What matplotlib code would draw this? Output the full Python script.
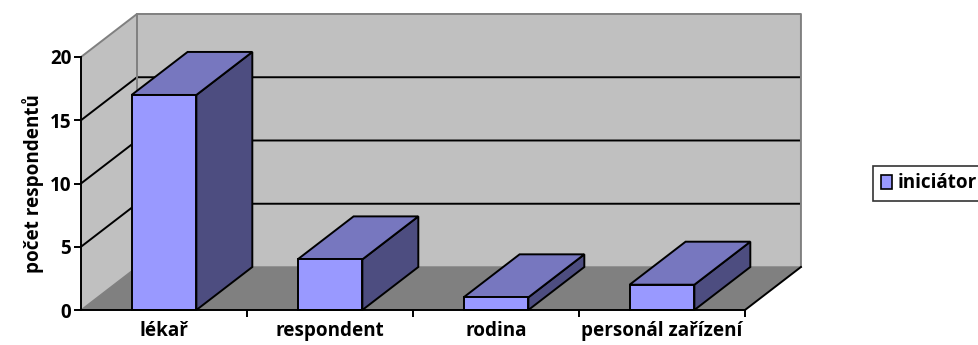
import matplotlib.pyplot as plt
from matplotlib.patches import Polygon, Rectangle, Patch

categories = ["lékař", "respondent", "rodina", "personál zařízení"]
counts = [17, 4, 1, 2]
y_ticks = [0, 5, 10, 15, 20]
series_name = "iniciátor"
y_title = "počet respondentů"

# fake 3D depth (in data units) and bar width
DX, DY = 0.337, 3.4
BAR_W = 0.39
YMAX = 20
N = len(categories)

FRONT = "#9999FF"
TOP = "#7777BF"
SIDE = "#4D4D80"
WALL = "#C0C0C0"
FLOOR = "#808080"
EDGE = "#808080"
FS = 13.6

plt.rcParams['font.family'] = ['Open Sans', 'DejaVu Sans']
plt.rcParams['font.weight'] = 'bold'

fig = plt.figure(figsize=(9.79, 3.45), dpi=100)
ax = fig.add_axes([81 / 979, 35 / 345, 664 / 979, 253 / 345])
ax.set_xlim(0, N)
ax.set_ylim(0, YMAX)
ax.patch.set_visible(False)


def poly(pts, fc, ec="none", lw=0, z=1):
    ax.add_patch(Polygon(pts, closed=True, facecolor=fc, edgecolor=ec,
                         linewidth=lw, zorder=z, clip_on=False))


# walls and floor
poly([(DX, DY), (N + DX, DY), (N + DX, YMAX + DY), (DX, YMAX + DY)], WALL, z=0.5)
poly([(0, 0), (DX, DY), (DX, YMAX + DY), (0, YMAX)], WALL, z=0.5)
poly([(0, 0), (N, 0), (N + DX, DY), (DX, DY)], FLOOR, z=0.6)

# gridlines on back and side wall
for t in y_ticks[1:-1]:
    ax.plot([0, DX, N + DX], [t, t + DY, t + DY], color="black", lw=1.4,
            zorder=0.8, clip_on=False, solid_capstyle="butt")

# wall outline
ax.plot([0, DX, N + DX, N + DX], [YMAX, YMAX + DY, YMAX + DY, DY],
        color=EDGE, lw=1.4, zorder=0.9, clip_on=False)
ax.plot([DX, DX], [DY, YMAX + DY], color=EDGE, lw=1.4, zorder=0.9, clip_on=False)
ax.plot([0, DX, N + DX], [0, DY, DY], color=EDGE, lw=1.0, zorder=0.9, clip_on=False)
ax.plot([N, N + DX], [0, DY], color="black", lw=1.4, zorder=0.9, clip_on=False)

# bars
for i, v in enumerate(counts):
    x0 = i + 0.5 - BAR_W / 2
    x1 = x0 + BAR_W
    poly([(x1, 0), (x1 + DX, DY), (x1 + DX, v + DY), (x1, v)], SIDE, "black", 1.4, 2)
    poly([(x0, v), (x1, v), (x1 + DX, v + DY), (x0 + DX, v + DY)], TOP, "black", 1.4, 2)
    ax.add_patch(Rectangle((x0, 0), BAR_W, v, facecolor=FRONT, edgecolor="black",
                           linewidth=1.4, zorder=2.1, clip_on=False))

# axes
for s in ["top", "right"]:
    ax.spines[s].set_visible(False)
for s in ["left", "bottom"]:
    ax.spines[s].set_linewidth(1.4)
    ax.spines[s].set_zorder(3)

ax.set_yticks(y_ticks)
ax.tick_params(axis="y", direction="out", length=5, width=1.4, labelsize=FS, pad=2)
ax.set_xticks(range(1, N + 1))
ax.set_xticklabels([])
ax.tick_params(axis="x", which="major", direction="out", length=5, width=1.4)
ax.set_xticks([i + 0.5 for i in range(N)], minor=True)
ax.set_xticklabels(categories, minor=True, fontsize=FS)
ax.tick_params(axis="x", which="minor", length=0, pad=8)

fig.text(33 / 979, 1 - 184 / 345, y_title, rotation=90, ha="center", va="center",
         fontsize=FS, fontweight="bold")

leg = fig.legend(handles=[Patch(facecolor=FRONT, edgecolor="black", linewidth=1.2)],
                 labels=[series_name], loc="center left",
                 bbox_to_anchor=(873 / 979, 1 - 183.5 / 345), borderaxespad=0,
                 fancybox=False, handlelength=0.6, handleheight=0.8,
                 handletextpad=0.3, borderpad=0.4,
                 prop={"weight": "bold", "size": FS})
leg.get_frame().set_edgecolor("black")
leg.get_frame().set_linewidth(1.2)

fig.savefig("out.png", dpi=100)
